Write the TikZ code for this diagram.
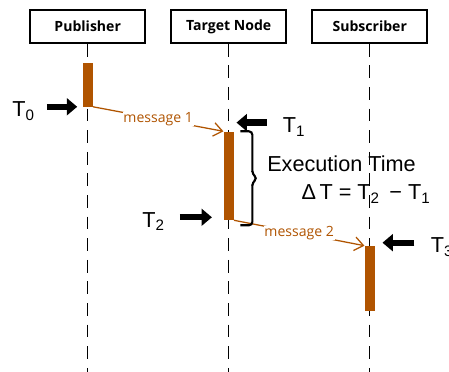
\documentclass[tikz,border=0pt]{standalone}
\usepackage{fontspec}
\setmainfont{Liberation Sans}
\newfontfamily\uifont{Open Sans}
\usetikzlibrary{arrows.meta,positioning}
\definecolor{taskbrown}{RGB}{176,84,0}

\tikzset{
  actor/.style={draw, line width=1.1pt, minimum width=2.875cm, minimum height=0.825cm,
    font=\uifont\bfseries\fontsize{10}{12}\selectfont},
  lifeline/.style={line width=1.1pt, dash pattern=on 0.32cm off 0.22cm},
  execbar/.style={fill=taskbrown, minimum width=0.25cm, inner sep=0pt},
  msg/.style={taskbrown, line width=0.9pt, -{Straight Barb[length=2.2mm,width=3.4mm]}},
  msglabel/.style={fill=white, inner sep=0.5pt, text=taskbrown,
    font=\uifont\fontsize{10}{12}\selectfont},
  timearrow/.style={line width=1.6mm, -{Triangle[length=2.6mm,width=4.2mm]}},
  timelabel/.style={font=\fontsize{15.4}{18}\selectfont, inner sep=0pt, yshift=-0.25cm},
  exectime/.style={line width=1.5pt, rounded corners=2.5pt},
}

\begin{document}
\begin{tikzpicture}[x=0.025cm, y=-0.025cm]
\useasboundingbox (0,0) rectangle (449,372);
\coordinate (bottom) at (0,372);

% heads of the lifelines
\node[actor] (pub) at (87.7,26.5) {Publisher};
\node[actor] (tgt) at (228.7,26.5) {Target Node};
\node[actor] (sub) at (369.7,26.5) {Subscriber};

% lifelines
\foreach \n in {pub,tgt,sub}
  \draw[lifeline] (\n.south) -- (\n.south |- bottom);

% activation bars
\node[execbar, minimum height=1.08cm] (pbar) at (87.7,84.9) {};
\node[execbar, minimum height=2.21cm] (tbar) at (228.7,175.8) {};
\node[execbar, minimum height=1.625cm] (sbar) at (369.7,278.5) {};

% messages
\draw[msg] (pbar.south east) -- node[msglabel] (m1) {message 1} (tbar.north west);
\draw[msg] (tbar.south east) -- node[msglabel] (m2) {message 2} (sbar.north west);

% time stamps
\draw[timearrow] ([xshift=-0.89cm]pbar.south west)
  node[timelabel, anchor=base east, xshift=-0.22cm] (t0) {T\textsubscript{0}}
  -- ([xshift=-0.13cm]pbar.south west);
\draw[timearrow] ([shift={(33,-8.7)}]tbar.north east)
  node[timelabel, anchor=base west, xshift=0.32cm] (t1) {T\textsubscript{1}}
  -- ([shift={(2.5,-8.7)}]tbar.north east);
\draw[timearrow] ([shift={(-43.5,-3)}]tbar.south west)
  node[timelabel, anchor=base east, xshift=-0.3cm] (t2) {T\textsubscript{2}}
  -- ([shift={(-11.5,-3)}]tbar.south west);
\draw[timearrow] ([shift={(39.5,-3)}]sbar.north east)
  node[timelabel, anchor=base west, xshift=0.33cm] (t3) {T\textsubscript{3}}
  -- ([shift={(7.5,-3)}]sbar.north east);

% execution time bracket
\draw[exectime] ([xshift=0.16cm]tbar.north east) -- ++(12,0) -- ++(0,43)
  -- ++(5,4) -- ++(-5,4) -- ++(0,43) -- ++(-12,0);
\node[anchor=base, font=\fontsize{15.4}{18}\selectfont] (exec) at (341.5,172) {Execution Time};
\node[anchor=base, font=\fontsize{15.4}{18}\selectfont] (delta) at (366,200)
  {Δ\,T = T\textsubscript{2}\, − T\textsubscript{1}};
\end{tikzpicture}
\end{document}
